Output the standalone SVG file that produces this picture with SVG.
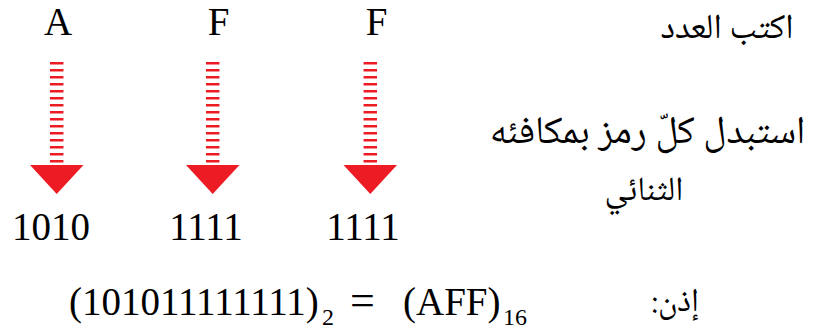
<svg xmlns="http://www.w3.org/2000/svg" width="814" height="331" viewBox="0 0 814 331">
<style>
.lat{font-family:"Liberation Serif","Times New Roman",serif;font-size:39px;fill:#000}
.ar{font-family:"Noto Naskh Arabic","Noto Sans Arabic","DejaVu Sans",sans-serif;font-size:34px;fill:#000}
.sub{font-size:24px}
.stripe{stroke:#ED1C24;stroke-width:13.5;stroke-dasharray:2.6 4.4;fill:none}
.head{fill:#ED1C24}
</style>
<rect width="814" height="331" fill="#fff"/>
<g id="labels-top">
<text class="lat" x="58" y="35" text-anchor="middle">A</text>
<text class="lat" x="218.5" y="35" text-anchor="middle">F</text>
<text class="lat" x="376.5" y="35" text-anchor="middle">F</text>
</g>
<g id="connectors">
<line class="stripe" x1="56.7" y1="62" x2="56.7" y2="164"/>
<polygon class="head" points="30,165 83.5,165 56.7,194"/>
<line class="stripe" x1="212.7" y1="62" x2="212.7" y2="164"/>
<polygon class="head" points="186,165 239.5,165 212.7,194"/>
<line class="stripe" x1="370.3" y1="62" x2="370.3" y2="164"/>
<polygon class="head" points="343.5,165 397,165 370.3,194"/>
</g>
<g id="labels-bottom">
<text class="lat" x="51" y="240" text-anchor="middle">1010</text>
<text class="lat" x="206" y="240" text-anchor="middle">1111</text>
<text class="lat" x="363" y="240" text-anchor="middle">1111</text>
</g>
<g id="steps">
<text class="ar" x="727" y="38" text-anchor="middle" direction="rtl" style="font-size:35px">اكتب العدد</text>
<text class="ar" x="647.5" y="143" text-anchor="middle" direction="rtl" style="font-size:39px">استبدل كلّ رمز بمكافئه</text>
<text class="ar" x="644" y="200" text-anchor="middle" direction="rtl">الثنائي</text>
</g>
<g id="result">
<text class="lat" x="69" y="315">(101011111111)</text>
<text class="lat sub" x="322" y="325">2</text>
<text class="lat" x="350" y="315" style="font-size:44px">=</text>
<text class="lat" x="403" y="315">(AFF)</text>
<text class="lat sub" x="503" y="325">16</text>
<text class="ar" x="675" y="311" text-anchor="middle" direction="rtl" style="font-size:33px">إذن:</text>
</g>
</svg>
